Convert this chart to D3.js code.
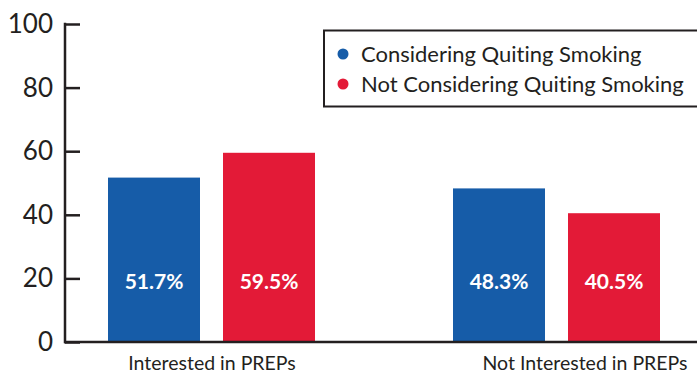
<!DOCTYPE html>
<html><head><meta charset="utf-8">
<script src="https://cdn.jsdelivr.net/npm/d3@7"></script>
<style>html,body{margin:0;padding:0;background:#fff;}svg{display:block;}text{font-variant-ligatures:none;}</style>
</head><body>
<svg id="c" width="697" height="373"></svg>
<script>
const categories = ["Interested in PREPs", "Not Interested in PREPs"];
const seriesNames = ["Considering Quiting Smoking", "Not Considering Quiting Smoking"];
const considering = [51.7, 48.3];
const notConsidering = [59.5, 40.5];
const yTicks = [0, 20, 40, 60, 80, 100];
const colors = ["#165ca8", "#e31a37"];

const svg = d3.select("#c");
const font = "Lato, 'Open Sans', sans-serif";
const y = d3.scaleLinear().domain([0, 100]).range([342, 24]);
const xg = d3.scaleBand().domain(categories).range([108, 660]).paddingInner(0.4).paddingOuter(0);
const x1 = d3.scaleBand().domain([0, 1]).range([0, xg.bandwidth()]).paddingInner(0.2);

const data = categories.map((c, i) => ({cat: c, vals: [considering[i], notConsidering[i]]}));

const g = svg.append("g");
const groups = g.selectAll("g.grp").data(data).join("g")
  .attr("transform", d => `translate(${xg(d.cat)},0)`);
groups.selectAll("rect").data(d => d.vals).join("rect")
  .attr("x", (d, i) => x1(i))
  .attr("width", x1.bandwidth())
  .attr("y", d => y(d))
  .attr("height", d => y(0) - y(d))
  .attr("fill", (d, i) => colors[i]);
groups.selectAll("text.v").data(d => d.vals).join("text")
  .attr("class", "v")
  .attr("x", (d, i) => x1(i) + x1.bandwidth() / 2)
  .attr("y", 289)
  .attr("text-anchor", "middle")
  .attr("fill", "#fff")
  .attr("font-family", font)
  .attr("font-weight", "bold")
  .attr("font-size", 21)
  .text(d => d.toFixed(1) + "%");

// axes
const yAxis = d3.axisRight(y).tickValues(yTicks).tickSize(15).tickFormat("");
const ya = svg.append("g").attr("transform", "translate(65,0)").call(yAxis);
ya.select(".domain").remove();
ya.selectAll(".tick line").attr("stroke", "#231f20").attr("stroke-width", 2.5);
svg.append("line").attr("x1", 65).attr("x2", 65).attr("y1", y(100) - 1.2).attr("y2", y(0) + 1.2)
  .attr("stroke", "#231f20").attr("stroke-width", 2.5);
svg.append("line").attr("x1", 64).attr("x2", 697).attr("y1", y(0)).attr("y2", y(0))
  .attr("stroke", "#231f20").attr("stroke-width", 2.5);
svg.selectAll("text.yt").data(yTicks).join("text").attr("class", "yt")
  .attr("x", 53).attr("y", d => y(d) + 9)
  .attr("text-anchor", "end")
  .attr("font-family", font).attr("font-size", 26).attr("fill", "#231f20")
  .text(d => d);

// category labels
const labelShift = [0.5, 28.5];
svg.selectAll("text.cat").data(categories).join("text").attr("class", "cat")
  .attr("x", (d, i) => xg(d) + xg.bandwidth() / 2 + labelShift[i])
  .attr("y", 370)
  .attr("text-anchor", "middle")
  .attr("font-family", font).attr("font-size", 19.5).attr("fill", "#231f20")
  .text(d => d);

// legend
const lg = svg.append("g");
lg.append("rect").attr("x", 324).attr("y", 30.5).attr("width", 380).attr("height", 76)
  .attr("fill", "#fff").attr("stroke", "#231f20").attr("stroke-width", 2);
seriesNames.forEach((s, i) => {
  lg.append("circle").attr("cx", 343).attr("cy", 54 + i * 30).attr("r", 5.5).attr("fill", colors[i]);
  lg.append("text").attr("x", 361).attr("y", 62 + i * 30)
    .attr("font-family", font).attr("font-size", 22).attr("fill", "#231f20").text(s);
});
</script>
</body></html>
